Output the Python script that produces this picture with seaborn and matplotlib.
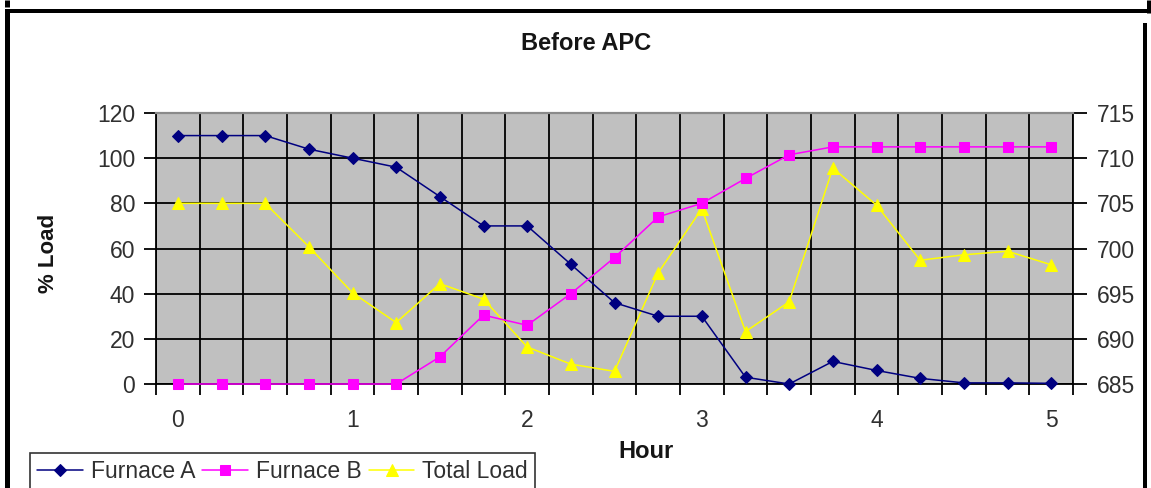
import numpy as np
import pandas as pd
import matplotlib
matplotlib.use("Agg")
import matplotlib.pyplot as plt
from matplotlib.lines import Line2D
from matplotlib.ticker import FixedLocator, NullFormatter, FixedFormatter
import seaborn as sns

# ---- data ----
hours = [0, 0.25, 0.5, 0.75, 1, 1.25, 1.5, 1.75, 2, 2.25, 2.5, 2.75,
         3, 3.25, 3.5, 3.75, 4, 4.25, 4.5, 4.75, 5]
furnace_a = [110, 110, 110, 104, 100, 96, 83, 70, 70, 53, 36, 30,
             30, 3, 0, 10, 6, 2.5, 0.5, 0.5, 0.3]
furnace_b = [0, 0, 0, 0, 0, 0, 12, 30.5, 26, 40, 56, 74,
             80, 91, 101.5, 105, 105, 105, 105, 105, 105]
total_load = [705, 705, 705, 700.2, 695.1, 691.8, 696.1, 694.4, 689.1, 687.2, 686.4, 697.3,
              704.4, 690.8, 694.1, 708.9, 704.8, 698.7, 699.3, 699.7, 698.2]
hour_labels = ["0", "1", "2", "3", "4", "5"]
left_ticks = [0, 20, 40, 60, 80, 100, 120]
right_ticks = [685, 690, 695, 700, 705, 710, 715]

df = pd.DataFrame({"Hour": hours, "Furnace A": furnace_a,
                   "Furnace B": furnace_b, "Total Load": total_load})

sns.set_style("white")
plt.rcParams["font.family"] = ["Liberation Sans", "DejaVu Sans"]

W, H = 1151, 488
fig = plt.figure(figsize=(W / 100, H / 100), dpi=100)

def fx(x):
    return x / W

def fy(y):
    return 1 - y / H

ax_l, ax_r, ax_t, ax_b = 156, 1073, 113, 384
ax = fig.add_axes([fx(ax_l), fy(ax_b), fx(ax_r - ax_l), (ax_b - ax_t) / H])

fs = 16.5
tcol = "#303030"

sns.lineplot(data=df, x="Hour", y="Furnace A", ax=ax, color="#000080",
             marker="D", markersize=6.5, markeredgecolor="#000080",
             linewidth=1.1, label="Furnace A", legend=False, zorder=4,
             clip_on=False)
sns.lineplot(data=df, x="Hour", y="Furnace B", ax=ax, color="#ff00ff",
             marker="s", markersize=7, markeredgecolor="#ff00ff",
             linewidth=1.1, label="Furnace B", legend=False, zorder=4,
             clip_on=False)

ax2 = ax.twinx()
sns.lineplot(data=df, x="Hour", y="Total Load", ax=ax2, color="#ffff00",
             marker="^", markersize=8.5, markeredgecolor="#ffff00",
             linewidth=1.1, label="Total Load", legend=False, zorder=4)

xmin, xmax = -0.125, 5.125
ax.set_xlim(xmin, xmax)
ax2.set_xlim(xmin, xmax)
ax.set_ylim(0, 120)
ax2.set_ylim(685, 715)

# category boundaries as major ticks (gridlines), labels at integer hours
bounds = list(np.arange(xmin, xmax + 0.01, 0.25))
ax.xaxis.set_major_locator(FixedLocator(bounds))
ax.xaxis.set_major_formatter(NullFormatter())
ax.xaxis.set_minor_locator(FixedLocator([float(h) for h in hour_labels]))
ax.xaxis.set_minor_formatter(FixedFormatter(hour_labels))
ax.tick_params(axis="x", which="major", direction="out", length=8, width=1.3,
               color="black", bottom=True)
ax.tick_params(axis="x", which="minor", length=0, pad=18, labelsize=fs,
               labelcolor=tcol)

ax.set_yticks(left_ticks)
ax.set_yticklabels([str(v) for v in left_ticks])
ax.tick_params(axis="y", direction="out", length=9, width=1.3, color="black",
               left=True, labelsize=fs, labelcolor=tcol, pad=6)
ax2.set_yticks(right_ticks)
ax2.set_yticklabels([str(v) for v in right_ticks])
ax2.tick_params(axis="y", direction="out", length=10, width=1.3, color="black",
                right=True, labelsize=fs, labelcolor=tcol, pad=7)

# Layering: ax2 (grey background + grid + Total Load) below, ax (A, B) above
ax.set_zorder(2)
ax2.set_zorder(1)
ax.patch.set_visible(False)
ax2.patch.set_visible(True)
ax2.patch.set_facecolor("#c0c0c0")
ax.grid(False)
ax2.xaxis.set_visible(True)
ax2.tick_params(axis="x", which="both", length=0, labelbottom=False,
                labeltop=False, bottom=False, top=False)
ax2.grid(True, which="major", axis="both", color="black", linewidth=1.3)
ax2.grid(False, which="minor", axis="x")
ax2.set_axisbelow(True)

ax.set_xlabel("")
ax.set_ylabel("")
ax2.set_xlabel("")
ax2.set_ylabel("")

for s in ("left", "bottom"):
    ax.spines[s].set_color("black")
    ax.spines[s].set_linewidth(1.3)
ax.spines["right"].set_visible(False)
ax.spines["top"].set_color("#8a8a8a")
ax.spines["top"].set_linewidth(1.6)
for s in ("left", "bottom", "top"):
    ax2.spines[s].set_visible(False)
ax2.spines["right"].set_color("black")
ax2.spines["right"].set_linewidth(1.3)

# texts
fig.text(fx(586), fy(43), "Before APC", ha="center", va="center",
         fontsize=17, fontweight="bold", color="#151515")
fig.text(fx(646), fy(452), "Hour", ha="center", va="center",
         fontsize=17, fontweight="bold", color="#151515")
fig.text(fx(48), fy(253), "% Load", ha="center", va="center", rotation=90,
         fontsize=16, fontweight="bold", color="#151515")

# legend
h1, l1 = ax.get_legend_handles_labels()
h2, l2 = ax2.get_legend_handles_labels()
leg = fig.legend(h1 + h2, l1 + l2, loc="upper left",
                 bbox_to_anchor=(fx(30), fy(453)), borderaxespad=0,
                 ncol=3, fontsize=fs, frameon=True, fancybox=False,
                 edgecolor="black", handlelength=2.0, handletextpad=0.35,
                 columnspacing=0.3, borderpad=0.3)
leg.get_frame().set_linewidth(1.2)
leg.get_frame().set_facecolor("white")
for t in leg.get_texts():
    t.set_color(tcol)

# outer frame pieces
def pxline(x0, y0, x1, y1, w):
    fig.add_artist(Line2D([fx(x0), fx(x1)], [fy(y0), fy(y1)],
                          transform=fig.transFigure, color="black",
                          linewidth=w * 0.72, solid_capstyle="butt"))

pxline(5, 11, 1151, 11, 4)
pxline(7.5, 9, 7.5, 488, 5)
pxline(7.5, 0, 7.5, 7, 5)
pxline(1145, 23, 1145, 488, 4)
pxline(1148.5, 0, 1148.5, 13, 5)

fig.savefig("out.png", dpi=100)
